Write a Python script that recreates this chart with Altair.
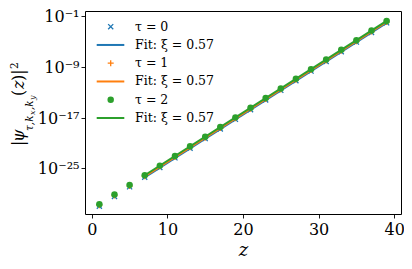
import altair as alt
import pandas as pd

# ---- data ----
z_vals = [1, 3, 5, 7, 9, 11, 13, 15, 17, 19, 21, 23, 25, 27, 29, 31, 33, 35, 37, 39]
tau0_vals = [1.1e-31, 3.6e-30, 1.2e-28, 4.0e-27, 1.32e-25, 4.4e-24, 1.44e-22, 4.8e-21, 1.58e-19, 5.2e-18,
             1.74e-16, 5.8e-15, 1.9e-13, 6.3e-12, 2.09e-10, 6.9e-9, 2.29e-7, 7.6e-6, 2.5e-4, 8.3e-3]
tau1_vals = [1.53e-31, 5.1e-30, 1.68e-28, 5.6e-27, 1.84e-25, 6.1e-24, 2.02e-22, 6.7e-21, 2.21e-19, 7.4e-18,
             2.43e-16, 8.0e-15, 2.66e-13, 8.8e-12, 2.92e-10, 9.7e-9, 3.2e-7, 1.06e-5, 3.5e-4, 1.16e-2]
tau2_vals = [2.19e-31, 7.24e-30, 2.40e-28, 7.94e-27, 2.63e-25, 8.71e-24, 2.88e-22, 9.55e-21, 3.16e-19, 1.05e-17,
             3.47e-16, 1.15e-14, 3.80e-13, 1.26e-11, 4.17e-10, 1.38e-8, 4.57e-7, 1.51e-5, 5.01e-4, 1.66e-2]
fit_z = [7, 39]
fit0_vals = [3.8e-27, 8.0e-3]
fit1_vals = [5.4e-27, 1.12e-2]
fit2_vals = [7.94e-27, 1.66e-2]

series_labels = ["τ = 0", "τ = 1", "τ = 2"]
fit_labels = ["Fit: ξ = 0.57", "Fit: ξ = 0.57", "Fit: ξ = 0.57"]
colors = ["#1f77b4", "#ff7f0e", "#2ca02c"]

x_ticks = [0, 10, 20, 30, 40]
y_tick_exps = [-25, -17, -9, -1]
y_tick_labels = ["10⁻²⁵", "10⁻¹⁷", "10⁻⁹", "10⁻¹"]

FONT = "DejaVu Serif"

# ---- scales / axes ----
x_scale = alt.Scale(domain=[-0.9, 40.9], nice=False, zero=False)
y_scale = alt.Scale(type="log", domain=[6.3e-33, 0.6], nice=False)

label_expr = ""
for e, lab in zip(y_tick_exps, y_tick_labels):
    label_expr += f"round(log(datum.value)/LN10) == {e} ? '{lab}' : "
label_expr += "''"

x_axis = alt.Axis(values=x_ticks, title="z", titleFontStyle="italic", titleFont=FONT,
                  titleFontSize=18, titleFontWeight="normal", titlePadding=4,
                  labelFont=FONT, labelFontSize=16, labelPadding=3, tickSize=4,
                  tickColor="black", tickWidth=0.9, labelColor="black", titleColor="black",
                  grid=False, domain=False)
y_axis = alt.Axis(values=[10.0 ** e for e in y_tick_exps], labelExpr=label_expr, title=None,
                  labelFont=FONT, labelFontSize=16, labelPadding=2, tickSize=4,
                  tickColor="black", tickWidth=0.9, labelColor="black",
                  grid=False, domain=False, labelBaseline="middle", labelOffset=0.5)

cross_x = "M-1,-1L1,1M-1,1L1,-1"
plus = "M-1,0L1,0M0,-1L0,1"


def pts(vals, i):
    df = pd.DataFrame({"z": z_vals, "v": vals})
    base = alt.Chart(df)
    if i == 0:
        m = base.mark_point(shape=cross_x, size=26, filled=False, strokeWidth=1.3, color=colors[0], opacity=1)
    elif i == 1:
        m = base.mark_point(shape=plus, size=36, filled=False, strokeWidth=1.3, color=colors[1], opacity=1)
    else:
        m = base.mark_circle(size=42, color=colors[2], opacity=1)
    return m.encode(x=alt.X("z:Q", scale=x_scale, axis=x_axis),
                    y=alt.Y("v:Q", scale=y_scale, axis=y_axis))


def fit(vals, i):
    df = pd.DataFrame({"z": fit_z, "v": vals})
    return alt.Chart(df).mark_line(color=colors[i], strokeWidth=2).encode(
        x=alt.X("z:Q", scale=x_scale, axis=x_axis),
        y=alt.Y("v:Q", scale=y_scale, axis=y_axis))


one = alt.Data(values=[{"a": 1}])


def txt(s, x, y, size, style="normal", angle=0, align="left", baseline="alphabetic"):
    kw = dict(text=s, fontSize=size, fontStyle=style, font=FONT, align=align,
              baseline=baseline, color="black")
    if angle:
        kw["angle"] = angle
    return alt.Chart(one).mark_text(**kw).encode(x=alt.value(x), y=alt.value(y))


layers = [pts(tau0_vals, 0), fit(fit0_vals, 0),
          pts(tau1_vals, 1), fit(fit1_vals, 1),
          pts(tau2_vals, 2), fit(fit2_vals, 2)]

# ---- legend (manual) ----
row_y = [15.7 + 18.26 * k for k in range(6)]
entries = []
for i in range(3):
    entries.append(("pt", i, series_labels[i]))
    entries.append(("ln", i, fit_labels[i]))
for (kind, i, lab), yy in zip(entries, row_y):
    if kind == "pt":
        if i == 0:
            mk = alt.Chart(one).mark_point(shape=cross_x, size=26, filled=False, strokeWidth=1.3,
                                           color=colors[0], opacity=1)
        elif i == 1:
            mk = alt.Chart(one).mark_point(shape=plus, size=36, filled=False, strokeWidth=1.3,
                                           color=colors[1], opacity=1)
        else:
            mk = alt.Chart(one).mark_circle(size=42, color=colors[2], opacity=1)
        layers.append(mk.encode(x=alt.value(25.7), y=alt.value(yy)))
    else:
        layers.append(alt.Chart(one).mark_rule(color=colors[i], strokeWidth=2).encode(
            x=alt.value(11.7), x2=alt.value(39.3), y=alt.value(yy)))
    layers.append(txt(lab, 50, yy, 12.5, baseline="middle"))

# ---- y title pieces (rotated, kept inside the canvas) ----
MX = -61
SX = -52.5
SSX = -50.5
layers += [
    txt("|", MX, 135, 16, angle=270),
    txt("ψ", MX, 131, 16, "italic", angle=270),
    txt("τ,k", SX, 120, 10.5, "italic", angle=270),
    txt("x", SSX, 104, 8, "italic", angle=270),
    txt(",k", SX, 99, 10.5, "italic", angle=270),
    txt("y", SSX, 89, 8, "italic", angle=270),
    txt("(", MX, 85, 16, angle=270),
    txt("z", MX, 78, 16, "italic", angle=270),
    txt(")|", MX, 70, 16, angle=270),
    txt("2", -67, 58, 10.5, angle=270),
]

chart = alt.layer(*layers).properties(
    width=316, height=203, autosize="none",
    padding={"left": 77, "top": 3, "right": 3, "bottom": 47},
    background="white",
).configure_view(stroke="black", strokeWidth=1)

chart.save("out.html", embed_options={"renderer": "svg", "actions": False})
